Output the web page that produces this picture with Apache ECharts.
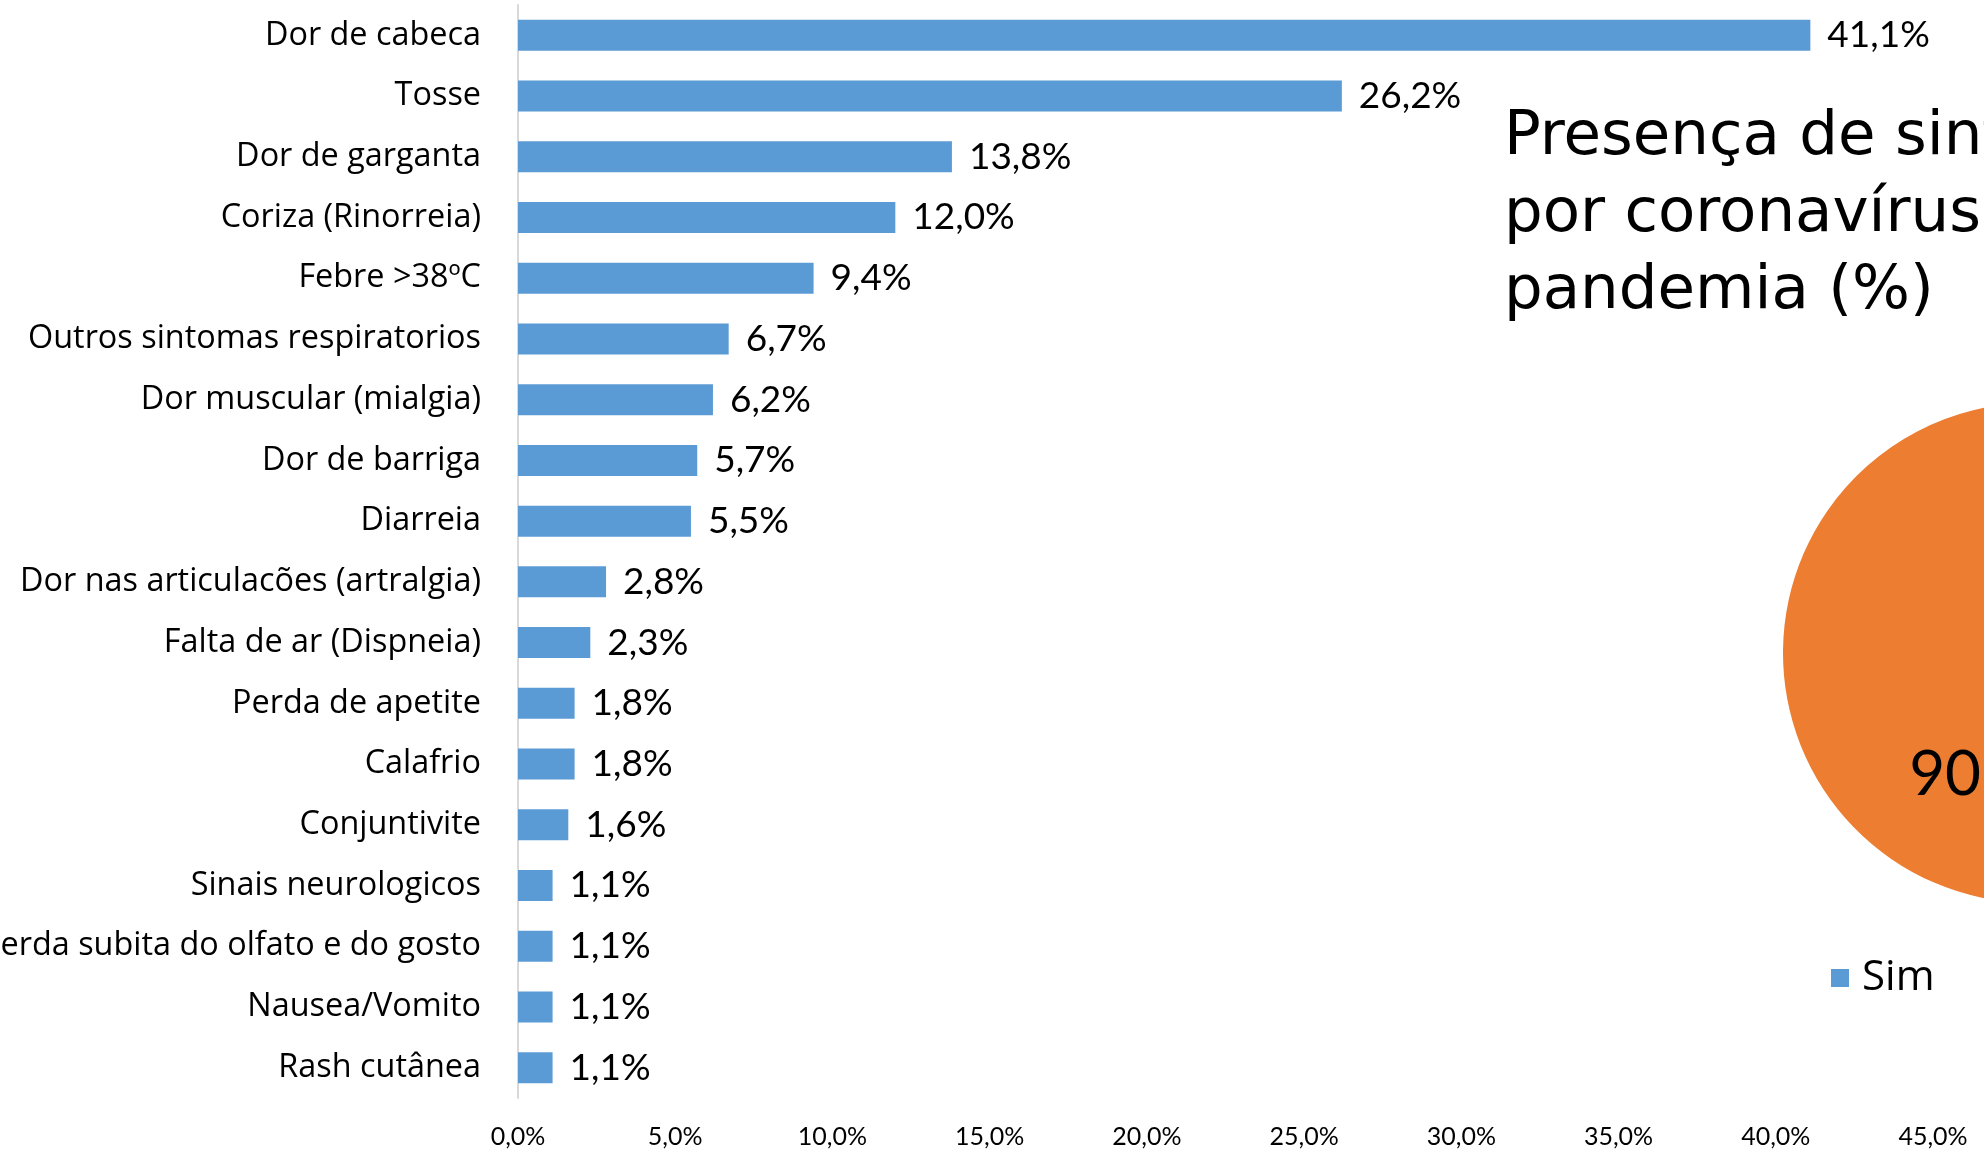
<!DOCTYPE html>
<html>
<head>
<meta charset="utf-8">
<title>Sintomas</title>
<script src="https://cdn.jsdelivr.net/npm/echarts@6/dist/echarts.min.js"></script>
<style>
  html, body { margin: 0; padding: 0; background: #ffffff; }
  #chart { width: 1984px; height: 1152px; }
</style>
</head>
<body>
<div id="chart"></div>
<script>
// Sintomas relatados (% dos casos)
const categories = [
  'Dor de cabeca',
  'Tosse',
  'Dor de garganta',
  'Coriza (Rinorreia)',
  'Febre >38ºC',
  'Outros sintomas respiratorios',
  'Dor muscular (mialgia)',
  'Dor de barriga',
  'Diarreia',
  'Dor nas articulacões (artralgia)',
  'Falta de ar (Dispneia)',
  'Perda de apetite',
  'Calafrio',
  'Conjuntivite',
  'Sinais neurologicos',
  'Perda subita do olfato e do gosto',
  'Nausea/Vomito',
  'Rash cutânea'
];
const symptomValues = [41.1, 26.2, 13.8, 12.0, 9.4, 6.7, 6.2, 5.7, 5.5, 2.8, 2.3, 1.8, 1.8, 1.6, 1.1, 1.1, 1.1, 1.1];

// Presença de sintomas (Sim / Não)
const presenceNames = ['Sim', 'Não'];
const presenceValues = [9.6, 90.4];

const xTickMin = 0;
const xTickMax = 45;
const xTickStep = 5;

const BLUE = '#5B9BD5';
const ORANGE = '#ED7D31';
const pct = v => Number(v).toFixed(1).replace('.', ',') + '%';

const chart = echarts.init(document.getElementById('chart'), null, { renderer: 'canvas' });

chart.setOption({
  animation: false,
  backgroundColor: '#ffffff',
  title: {
    text: 'Presença de sintomas\npor coronavírus na\npandemia (%)',
    left: 1499,
    top: 95,
    textStyle: {
      fontFamily: '"DejaVu Sans"',
      fontSize: 61,
      lineHeight: 77,
      fontWeight: 'normal',
      color: '#000000'
    }
  },
  legend: {
    data: presenceNames,
    left: 1826,
    top: 948,
    width: 1200,
    orient: 'horizontal',
    icon: 'rect',
    itemWidth: 18,
    itemHeight: 18,
    itemGap: 90,
    selectedMode: false,
    textStyle: {
      fontFamily: '"Open Sans"',
      fontSize: 42,
      lineHeight: 50,
      color: '#000000',
      padding: [0, 0, 0, 8]
    }
  },
  grid: {
    left: 518,
    right: 51,
    top: 5,
    bottom: 54,
    containLabel: false,
    outerBoundsMode: 'none'
  },
  xAxis: {
    type: 'value',
    min: xTickMin,
    max: xTickMax,
    interval: xTickStep,
    axisLine: { show: false },
    axisTick: { show: false },
    splitLine: { show: false },
    axisLabel: {
      formatter: pct,
      margin: 26,
      fontFamily: 'Lato',
      fontSize: 25,
      color: '#000000'
    }
  },
  yAxis: {
    type: 'category',
    data: categories,
    inverse: true,
    axisLine: { show: true, lineStyle: { color: '#D9D9D9', width: 2 } },
    axisTick: { show: false },
    splitLine: { show: false },
    axisLabel: {
      margin: 37,
      fontFamily: '"Open Sans"',
      fontSize: 32.4,
      color: '#000000',
      padding: [8, 0, 0, 0]
    }
  },
  series: [
    {
      name: 'Sintomas',
      type: 'bar',
      data: symptomValues,
      barWidth: 31,
      itemStyle: { color: BLUE },
      label: {
        show: true,
        position: 'right',
        distance: 17,
        formatter: p => pct(p.value),
        fontFamily: 'Lato',
        fontSize: 37,
        color: '#000000',
        padding: [6, 0, 0, 0]
      },
      emphasis: { disabled: true }
    },
    {
      name: 'Presença de sintomas',
      type: 'pie',
      center: [2033, 653],
      radius: 250,
      startAngle: 90,
      clockwise: true,
      data: presenceNames.map((n, i) => ({
        name: n,
        value: presenceValues[i],
        itemStyle: { color: i === 0 ? BLUE : ORANGE }
      })),
      label: {
        show: true,
        position: 'inside',
        formatter: p => pct(p.value),
        fontFamily: 'Lato',
        fontSize: 62,
        color: '#000000'
      },
      labelLine: { show: false },
      emphasis: { disabled: true }
    }
  ]
});
</script>
</body>
</html>
